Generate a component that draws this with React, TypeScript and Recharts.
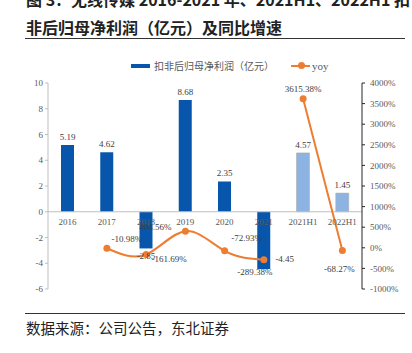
import { Bar, Cell, ComposedChart, LabelList, Line, ReferenceLine, XAxis, YAxis } from "recharts";

const categories = ["2016", "2017", "2018", "2019", "2020", "2021", "2021H1", "2022H1"];
const profit = [5.19, 4.62, -2.85, 8.68, 2.35, -4.45, 4.57, 1.45];
const yoy = [null, -10.98, -161.69, 404.56, -72.93, -289.38, 3615.38, -68.27];
const leftTicks = [-6, -4, -2, 0, 2, 4, 6, 8, 10];
const rightTicks = [-1000, -500, 0, 500, 1000, 1500, 2000, 2500, 3000, 3500, 4000];

// label nudges, picked by eye from the reference
const yoyLabelShift: Array<[number, number]> = [
  [0, 0], [20, -9], [23, 5], [-30, -4], [22, -13], [-9, 12], [0, -10], [-3, 18],
];

const data = categories.map((cat, i) => {
  const half = cat.includes("H1");
  return {
    cat,
    profit: profit[i],
    half,
    yoyYear: half ? null : yoy[i],
    yoyHalf: half ? yoy[i] : null,
  };
});

const DARK = "#0756AB";
const LIGHT = "#8DB3E2";
const ORANGE = "#ED7D31";
const SERIF = "'Liberation Serif', 'Times New Roman', serif";
const CJK = "'Noto Sans CJK SC', sans-serif";

const BarLabel = (props: any) => {
  const { x, y, width, height, value, index } = props;
  const cx = x + Math.abs(width) / 2;
  const top = Math.min(y, y + height);
  const bottom = Math.max(y, y + height);
  let tx = cx;
  let ty = top - 8;
  if (value < 0) {
    if (index === 5) {
      tx = cx + 21;
      ty = bottom - 10;
    } else {
      ty = bottom + 8;
    }
  }
  return (
    <text x={tx} y={ty} textAnchor="middle" dominantBaseline="central" fontSize={9} fill="#404040" fontFamily={SERIF}>
      {value}
    </text>
  );
};

// category names sit just under the zero line, drawn over the bars
const CatLabel = (props: any) => {
  const { x, y, width, height, value } = props;
  const zero = y + height;
  return (
    <text x={x + Math.abs(width) / 2} y={zero + 10} textAnchor="middle" dominantBaseline="central" fontSize={9} fill="#595959" fontFamily={SERIF}>
      {value}
    </text>
  );
};

const YoyLabel = (props: any) => {
  const { x, y, value, index } = props;
  if (value == null) return null;
  const [dx, dy] = yoyLabelShift[index] || [0, -10];
  return (
    <text x={x + dx} y={y + dy} textAnchor="middle" dominantBaseline="central" fontSize={9} fill="#404040" fontFamily={SERIF}>
      {value.toFixed(2)}%
    </text>
  );
};

export default function App() {
  return (
    <div style={{ position: "fixed", left: 0, top: 0, width: 412, height: 353, background: "#fff", overflow: "hidden" }}>
      <div style={{ position: "absolute", left: 26, top: -15, width: 400, fontFamily: CJK, fontWeight: 700, fontSize: 16, lineHeight: "28px", color: "#222", whiteSpace: "nowrap" }}>
        <div>图 3：无线传媒 2016-2021 年、2021H1、2022H1 扣</div>
        <div>非后归母净利润（亿元）及同比增速</div>
      </div>
      <div style={{ position: "absolute", left: 25, top: 38, width: 380, borderTop: "1.5px solid #333" }} />

      <div style={{ position: "absolute", left: 131, top: 58, display: "flex", alignItems: "center", fontSize: 10, color: "#595959", fontFamily: CJK }}>
        <span style={{ display: "inline-block", width: 19, height: 4, background: DARK, marginRight: 4 }} />
        <span>扣非后归母净利润（亿元）</span>
        <span style={{ display: "inline-block", position: "relative", width: 19, height: 2, background: ORANGE, marginLeft: 17, marginRight: 2 }}>
          <span style={{ position: "absolute", left: 7, top: -2.5, width: 7, height: 7, borderRadius: "50%", background: ORANGE }} />
        </span>
        <span style={{ fontFamily: SERIF, fontSize: 11 }}>yoy</span>
      </div>

      <div style={{ position: "absolute", left: 0, top: 0 }}>
        <ComposedChart width={412} height={300} data={data} margin={{ top: 83, right: 0, bottom: 11, left: 8 }}>
          <XAxis dataKey="cat" height={0} axisLine={false} tickLine={false} tick={false} />
          <YAxis
            yAxisId="left"
            orientation="left"
            width={40}
            domain={[-6, 10]}
            ticks={leftTicks}
            interval={0}
            axisLine={{ stroke: "#BFBFBF" }}
            tickLine={{ stroke: "#BFBFBF" }}
            tickSize={3}
            tickMargin={2}
            tick={{ fontSize: 9, fill: "#595959", fontFamily: SERIF }}
          />
          <YAxis
            yAxisId="right"
            orientation="right"
            width={50}
            domain={[-1000, 4000]}
            ticks={rightTicks}
            interval={0}
            axisLine={{ stroke: "#262626" }}
            tickLine={{ stroke: "#262626" }}
            tickSize={3}
            tickMargin={5}
            tickFormatter={(v: number) => `${v}%`}
            tick={{ fontSize: 9, fill: "#595959", fontFamily: SERIF, textAnchor: "start" }}
          />
          <ReferenceLine yAxisId="left" y={0} stroke="#BFBFBF" />
          <Bar yAxisId="left" dataKey="profit" barSize={13} isAnimationActive={false}>
            {data.map((d, i) => (
              <Cell key={`c-${i}`} fill={d.half ? LIGHT : DARK} stroke={d.half ? "#A6A6A6" : "none"} strokeWidth={0.5} />
            ))}
            <LabelList dataKey="profit" content={<BarLabel />} />
            <LabelList dataKey="cat" content={<CatLabel />} />
          </Bar>
          <Line
            yAxisId="right"
            type="natural"
            dataKey="yoyYear"
            stroke={ORANGE}
            strokeWidth={2}
            dot={{ r: 3.5, fill: ORANGE, stroke: ORANGE, strokeWidth: 0 }}
            isAnimationActive={false}
            label={<YoyLabel />}
          />
          <Line
            yAxisId="right"
            type="natural"
            dataKey="yoyHalf"
            stroke={ORANGE}
            strokeWidth={2}
            dot={{ r: 3.5, fill: ORANGE, stroke: ORANGE, strokeWidth: 0 }}
            isAnimationActive={false}
            label={<YoyLabel />}
          />
        </ComposedChart>
      </div>

      <div style={{ position: "absolute", left: 25, top: 313, width: 380, borderTop: "1.5px solid #333" }} />
      <div style={{ position: "absolute", left: 26, top: 317, fontFamily: CJK, fontSize: 14.5, color: "#222", whiteSpace: "nowrap" }}>
        数据来源：公司公告，东北证券
      </div>
    </div>
  );
}
